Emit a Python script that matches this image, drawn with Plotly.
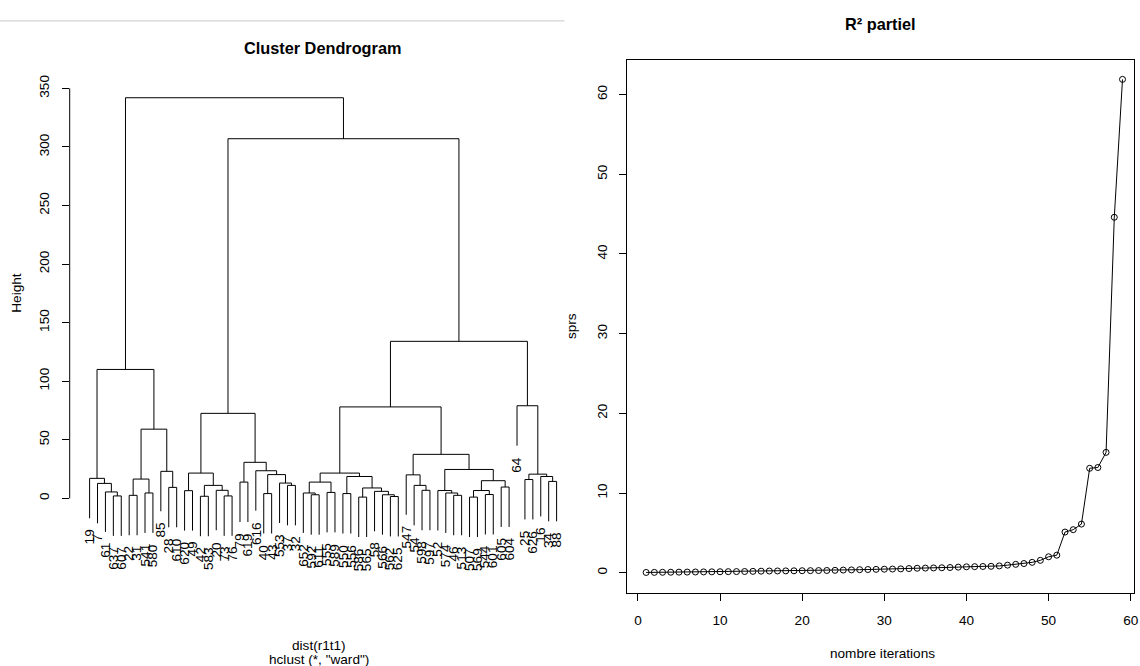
import plotly.graph_objects as go

W, H = 1140, 666
FONT = "Liberation Sans, Arial, sans-serif"

# ---------------- data: dendrogram (leaf order left -> right) ----------------
leaf_labels = [
    "19", "7", "61", "637", "607", "22", "31", "541", "580", "85", "28", "610",
    "620", "49", "42", "583", "20", "73", "76",
    "79", "619", "616", "40", "43", "553", "37", "32",
    "652", "592", "611", "555", "589", "550", "556", "586", "565", "58", "566", "562", "625",
    "547", "54", "598", "597",
    "52", "574", "46", "513", "507", "569", "544", "601", "605", "604",
    "64", "25", "626", "16", "34", "88",
]
# R-style merge matrix: negative = leaf position, positive = earlier merge row (1-based)
merge_left = [
    -4, -3, -2, -1, -6, -8, 5, -11, -10, 7, 4,
    -13, -15, -18, -17, 13, 12, -20, -23, -26, -25, 19, -22, 18, 17,
    -29, -28, -31, 27, -33, -35, -39, -38, -37, 31, 30, 29,
    -43, -42, -41, -47, -46, -45, -49, -51, 44, -53, 46, 43, 40, 37,
    -56, -59, -58, 52, -55, 51, 25, 11,
]
merge_right = [
    -5, 1, 2, 3, -7, -9, 6, -12, 8, 9, 10,
    -14, -16, -19, 14, 15, 16, -21, -24, -27, 20, 21, 22, 23, 24,
    -30, 26, -32, 28, -34, -36, -40, 32, 33, 34, 35, 36,
    -44, 38, 39, -48, 41, 42, -50, -52, 45, -54, 47, 48, 49, 50,
    -57, -60, 53, 54, 55, 56, 57, 58,
]
merge_height = [
    2.0, 5.4, 12.7, 17.0, 2.5, 4.5, 16.4, 9.3, 23.0, 59.0, 110.0,
    6.5, 1.7, 2.0, 6.8, 11.0, 21.5, 13.8, 4.0, 11.0, 13.0, 20.2, 23.5, 30.7, 72.5,
    3.0, 4.5, 5.0, 13.8, 4.0, 1.0, 1.5, 3.0, 5.9, 8.8, 18.6, 21.5,
    6.8, 11.0, 20.0, 2.5, 4.5, 6.6, 1.0, 3.2, 6.6, 9.6, 15.0, 24.6, 37.5, 78.0,
    16.0, 14.4, 18.6, 20.6, 79.0, 134.0, 307.0, 342.0,
]
dendro_yticks = [0, 50, 100, 150, 200, 250, 300, 350]

# ---------------- data: R² partiel ----------------
iterations = list(range(1, 60))
r2_partiel = [
    0.03, 0.04, 0.05, 0.06, 0.07, 0.08, 0.09, 0.10, 0.11, 0.12,
    0.13, 0.14, 0.15, 0.17, 0.19, 0.21, 0.22, 0.23, 0.24, 0.25,
    0.26, 0.27, 0.28, 0.30, 0.33, 0.35, 0.38, 0.40, 0.42, 0.44,
    0.46, 0.48, 0.52, 0.56, 0.58, 0.60, 0.62, 0.65, 0.70, 0.74,
    0.76, 0.78, 0.80, 0.85, 0.95, 1.05, 1.15, 1.30, 1.55, 2.0,
    2.2, 5.1, 5.4, 6.1, 13.1, 13.2, 15.1, 44.6, 61.9,
]
r2_xticks = [0, 10, 20, 30, 40, 50, 60]
r2_yticks = [0, 10, 20, 30, 40, 50, 60]

# ---------------- dendrogram geometry from the merge matrix ----------------
hang = 0.1 * (max(merge_height) - min(merge_height))
node_x = {}
leaf_bottom = {}
seg_x, seg_y = [], []
for j, (a, b, h) in enumerate(zip(merge_left, merge_right, merge_height), start=1):
    pts = []
    for c in (a, b):
        if c < 0:
            leaf_bottom[-c] = h - hang
            pts.append((-c, h - hang))
        else:
            pts.append((node_x[c], merge_height[c - 1]))
    (xa, ya), (xb, yb) = pts
    seg_x += [xa, xa, xb, xb, None]
    seg_y += [ya, h, h, yb, None]
    node_x[j] = (xa + xb) / 2.0


def px(x):
    return x / W


def py(y):
    return 1 - y / H


fig = go.Figure()
fig.add_trace(go.Scatter(
    x=seg_x, y=seg_y, mode="lines",
    line=dict(color="black", width=1),
    hoverinfo="skip", showlegend=False, xaxis="x", yaxis="y",
))
fig.add_trace(go.Scatter(
    x=iterations, y=r2_partiel, mode="lines+markers",
    line=dict(color="black", width=1),
    marker=dict(symbol="circle-open", size=6, color="black", line=dict(width=1)),
    showlegend=False, xaxis="x2", yaxis="y2",
))

annotations = []
for i, lab in enumerate(leaf_labels, start=1):
    annotations.append(dict(
        x=i, y=leaf_bottom[i], xref="x", yref="y", text=lab, showarrow=False,
        textangle=-90, xanchor="center", yanchor="top", yshift=-9,
        font=dict(family=FONT, size=13.6, color="black"),
    ))

txt = dict(family=FONT, size=13.6, color="black")
annotations += [
    dict(x=px(324), y=py(43), xref="paper", yref="paper", text="<b>Cluster Dendrogram</b>",
         showarrow=False, font=dict(family=FONT, size=16.3, color="black"),
         xanchor="center", yanchor="middle"),
    dict(x=px(320), y=py(645), xref="paper", yref="paper", text="dist(r1t1)",
         showarrow=False, font=txt, xanchor="center", yanchor="middle"),
    dict(x=px(320), y=py(659), xref="paper", yref="paper", text='hclust (*, "ward")',
         showarrow=False, font=txt, xanchor="center", yanchor="middle"),
    dict(x=px(17), y=py(290), xref="paper", yref="paper", text="Height", textangle=-90,
         showarrow=False, font=txt, xanchor="center", yanchor="middle"),
    dict(x=px(884), y=py(19), xref="paper", yref="paper", text="<b>R² partiel</b>",
         showarrow=False, font=dict(family=FONT, size=16.3, color="black"),
         xanchor="center", yanchor="middle"),
    dict(x=px(886), y=py(653), xref="paper", yref="paper", text="nombre iterations",
         showarrow=False, font=txt, xanchor="center", yanchor="middle"),
    dict(x=px(574), y=py(323), xref="paper", yref="paper", text="sprs", textangle=-90,
         showarrow=False, font=txt, xanchor="center", yanchor="middle"),
]

shapes = [
    # y axis line of the dendrogram spanning the tick range only (R style)
    dict(type="line", xref="paper", yref="y", x0=px(70), x1=px(70),
         y0=min(dendro_yticks), y1=max(dendro_yticks), line=dict(color="black", width=1)),
    # separator line at the top-left
    dict(type="line", xref="paper", yref="paper", x0=0, x1=px(567), y0=py(16), y1=py(16),
         line=dict(color="#c8c8c8", width=1)),
]

fig.update_layout(
    width=W, height=H,
    margin=dict(l=0, r=0, t=0, b=0),
    paper_bgcolor="white", plot_bgcolor="white",
    font=dict(family=FONT, size=13.6, color="black"),
    showlegend=False,
    xaxis=dict(domain=[px(70), px(570)], range=[1 - 20 / 7.95, 1 + 480 / 7.95],
               visible=False, anchor="y"),
    yaxis=dict(domain=[py(545), py(75)], range=[-48 / 1.18, 422 / 1.18], anchor="x",
               tickvals=dendro_yticks, tickangle=-90, ticks="outside", ticklen=7,
               tickcolor="black", showline=False, showgrid=False, zeroline=False,
               ticklabelstandoff=7, tickfont=dict(family=FONT, size=13.6, color="black")),
    xaxis2=dict(domain=[px(630), px(1139)], range=[-1.3, 60.4], anchor="y2",
                tickvals=r2_xticks, ticks="outside", ticklen=7, tickcolor="black",
                showline=True, mirror=True, linecolor="black", linewidth=1,
                showgrid=False, zeroline=False, ticklabelstandoff=8,
                ticklabeloverflow="allow",
                tickfont=dict(family=FONT, size=13.6, color="black")),
    yaxis2=dict(domain=[py(592), py(55)], range=[-20 / 8.03, 517 / 8.03], anchor="x2",
                tickvals=r2_yticks, tickangle=-90, ticks="outside", ticklen=7,
                tickcolor="black", showline=True, mirror=True, linecolor="black",
                linewidth=1, showgrid=False, zeroline=False, ticklabelstandoff=7,
                tickfont=dict(family=FONT, size=13.6, color="black")),
    annotations=annotations,
    shapes=shapes,
)

fig.write_html("out.html",
               config={"displayModeBar": False},
               post_script="document.body.style.margin='0';document.body.style.overflow='hidden';")
